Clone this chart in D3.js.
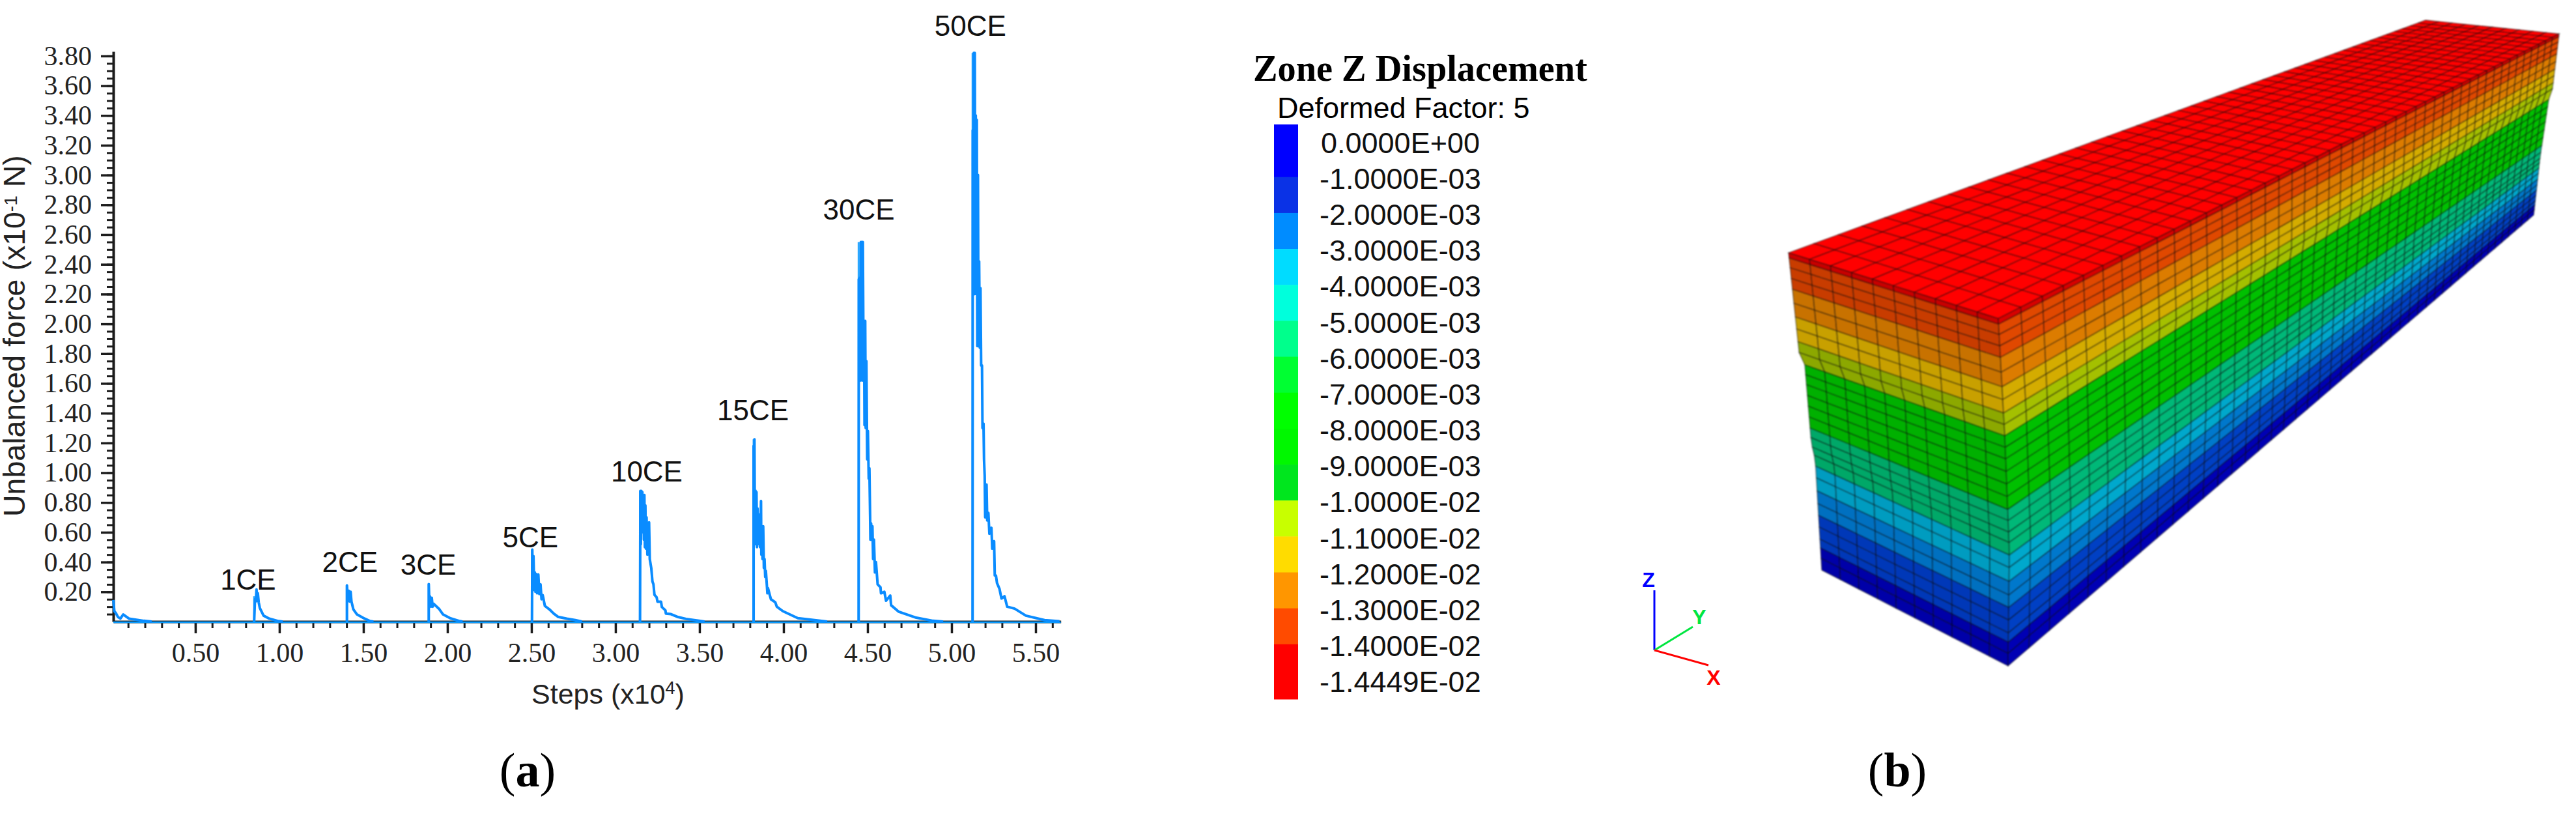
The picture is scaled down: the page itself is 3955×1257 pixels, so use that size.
<!DOCTYPE html>
<html>
<head>
<meta charset="utf-8">
<title>Unbalanced force and zone Z displacement</title>
<script src="https://cdn.jsdelivr.net/npm/d3@7/dist/d3.min.js"></script>
<style>
  html, body { margin: 0; background: #fff; }
  svg { display: block; }
  .serif { font-family: "Liberation Serif", serif; }
  .sans { font-family: "Liberation Sans", Arial, sans-serif; }
  .axis text { font-family: "Liberation Serif", serif; font-size: 42px; fill: #222; }
  .axis line, .axis path { stroke: #1c1c1c; }
</style>
</head>
<body>
<svg id="chart" width="3955" height="1257"></svg>
<script>
// (a) axes
const X_MAJOR = [0.5, 1, 1.5, 2, 2.5, 3, 3.5, 4, 4.5, 5, 5.5]
const Y_MAJOR = [0.2, 0.4, 0.6, 0.8, 1, 1.2, 1.4, 1.6, 1.8, 2, 2.2, 2.4, 2.6, 2.8, 3, 3.2, 3.4, 3.6, 3.8]

// (a) traces: [steps x10^4, force x10^-1 N]
const startTrace = [[0.012, 0.145], [0.018, 0.07], [0.027, 0.057], [0.04, 0.03], [0.054, 0.02], [0.071, 0.048], [0.105, 0.02], [0.194, 0.005], [0.24, 0]]
const peak1CE = [[0.85, 0], [0.855, 0.15], [0.86, 0.135], [0.864, 0.216], [0.868, 0.14], [0.872, 0.19], [0.877, 0.13], [0.884, 0.09], [0.906, 0.04], [0.94, 0.02], [0.995, 0.003], [1.02, 0]]
const peak2CE = [[1.402, 0], [1.402, 0.243], [1.408, 0.14], [1.413, 0.207], [1.418, 0.135], [1.424, 0.2], [1.429, 0.135], [1.44, 0.083], [1.462, 0.048], [1.507, 0.02], [1.54, 0.003], [1.56, 0]]
const peak3CE = [[1.889, 0], [1.889, 0.252], [1.893, 0.11], [1.896, 0.17], [1.902, 0.1], [1.907, 0.16], [1.912, 0.1], [1.918, 0.12], [1.952, 0.083], [1.974, 0.048], [2.018, 0.022], [2.074, 0.003], [2.09, 0]]
const peak5CE = [[2.503, 0], [2.505, 0.484], [2.509, 0.21], [2.512, 0.44], [2.516, 0.25], [2.52, 0.33], [2.524, 0.2], [2.528, 0.32], [2.534, 0.19], [2.541, 0.316], [2.547, 0.185], [2.554, 0.25], [2.56, 0.15], [2.567, 0.178], [2.58, 0.105], [2.606, 0.083], [2.632, 0.054], [2.658, 0.032], [2.71, 0.02], [2.761, 0.01], [2.8, 0]]
const peak10CE = [[3.146, 0], [3.148, 0.878], [3.151, 0.52], [3.154, 0.878], [3.157, 0.6], [3.16, 0.87], [3.163, 0.615], [3.166, 0.85], [3.169, 0.55], [3.172, 0.85], [3.175, 0.5], [3.178, 0.78], [3.181, 0.49], [3.185, 0.7], [3.19, 0.45], [3.195, 0.6], [3.2, 0.666], [3.204, 0.42], [3.213, 0.36], [3.22, 0.27], [3.226, 0.25], [3.232, 0.18], [3.245, 0.163], [3.25, 0.134], [3.271, 0.134], [3.276, 0.098], [3.297, 0.076], [3.3, 0.054], [3.33, 0.05], [3.368, 0.032], [3.42, 0.018], [3.497, 0.006], [3.53, 0]]
const peak15CE = [[3.822, 0], [3.822, 1.18], [3.825, 0.6], [3.827, 1.225], [3.83, 0.52], [3.833, 0.88], [3.836, 0.52], [3.839, 0.87], [3.842, 0.5], [3.845, 0.76], [3.848, 0.52], [3.851, 0.72], [3.854, 0.52], [3.857, 0.68], [3.86, 0.5], [3.863, 0.66], [3.866, 0.81], [3.868, 0.45], [3.872, 0.64], [3.875, 0.42], [3.879, 0.64], [3.883, 0.36], [3.887, 0.42], [3.891, 0.3], [3.895, 0.34], [3.904, 0.19], [3.907, 0.226], [3.925, 0.15], [3.951, 0.13], [3.96, 0.1], [3.996, 0.07], [4.085, 0.023], [4.218, 0.005], [4.26, 0]]
const peak30CE = [[4.447, 0], [4.448, 2.3], [4.451, 1.75], [4.454, 2.31], [4.457, 1.62], [4.46, 2.55], [4.463, 1.75], [4.466, 2.55], [4.469, 1.62], [4.472, 2.55], [4.476, 1.75], [4.479, 2.02], [4.482, 1.32], [4.486, 2.02], [4.489, 1.3], [4.493, 1.75], [4.498, 1.09], [4.502, 1.28], [4.507, 0.96], [4.511, 1.03], [4.515, 0.72], [4.517, 0.55], [4.521, 0.66], [4.525, 0.55], [4.529, 0.64], [4.533, 0.42], [4.538, 0.55], [4.544, 0.33], [4.55, 0.4], [4.56, 0.25], [4.577, 0.23], [4.58, 0.19], [4.6, 0.2], [4.61, 0.14], [4.635, 0.175], [4.64, 0.11], [4.686, 0.066], [4.79, 0.026], [4.89, 0.005], [4.95, 0]]
const peak50CE = [[5.125, 0], [5.126, 3.3], [5.129, 2.3], [5.132, 3.82], [5.135, 2.2], [5.138, 3.82], [5.141, 2.3], [5.144, 3.4], [5.147, 2.2], [5.15, 3.37], [5.153, 1.85], [5.157, 3], [5.16, 1.85], [5.164, 2.42], [5.168, 1.84], [5.172, 2.24], [5.176, 1.72], [5.181, 1.72], [5.184, 1.3], [5.19, 1.33], [5.193, 1.09], [5.197, 0.98], [5.2, 0.7], [5.208, 0.92], [5.212, 0.68], [5.219, 0.73], [5.225, 0.59], [5.237, 0.63], [5.242, 0.49], [5.253, 0.54], [5.257, 0.31], [5.264, 0.31], [5.27, 0.26], [5.285, 0.22], [5.297, 0.155], [5.315, 0.17], [5.331, 0.1], [5.375, 0.087], [5.442, 0.04], [5.553, 0.01], [5.642, 0.002]]
const allPeaks = [startTrace, peak1CE, peak2CE, peak3CE, peak5CE, peak10CE, peak15CE, peak30CE, peak50CE]

// onset spikes, drawn thinner and lighter: [step, height]
const onsets = [[0.85, 0.17], [1.402, 0.243], [1.889, 0.252], [2.503, 0.484], [3.146, 0.878], [3.822, 1.225], [4.447, 2.55], [5.125, 3.82]]

// peak labels: name, centre step, baseline force
const peakNames = ['1CE', '2CE', '3CE', '5CE', '10CE', '15CE', '30CE', '50CE']
const peakLabelSteps = [0.814, 1.42, 1.886, 2.494, 3.186, 3.818, 4.448, 5.112]
const peakLabelForce = [0.214, 0.332, 0.315, 0.499, 0.94, 1.352, 2.7, 3.933]

// (b) legend
const legendLabels = ['0.0000E+00', '-1.0000E-03', '-2.0000E-03', '-3.0000E-03', '-4.0000E-03', '-5.0000E-03', '-6.0000E-03', '-7.0000E-03', '-8.0000E-03', '-9.0000E-03', '-1.0000E-02', '-1.1000E-02', '-1.2000E-02', '-1.3000E-02', '-1.4000E-02', '-1.4449E-02']
const legendColors = ['#0000ff', '#0a32e6', '#008cff', '#00dcff', '#00ffdc', '#00ff8c', '#00ff32', '#00ff00', '#00f800', '#00e61e', '#c8ff00', '#ffdc00', '#ff9600', '#ff4b00', '#ff0000']

// (b) mesh: relative depth of each layer line, and the colour band of each layer
const layerDepth = [0, 0.016, 0.046, 0.079, 0.112, 0.155, 0.197, 0.234, 0.273, 0.306, 0.339, 0.372, 0.405, 0.441, 0.477, 0.513, 0.55, 0.582, 0.615, 0.645, 0.681, 0.717, 0.757, 0.796, 0.832, 0.868, 0.905, 0.932, 0.964, 1]
const layerBand = [0, 1, 1, 1, 2, 2, 3, 3, 4, 4, 5, 5, 5, 5, 5, 5, 6, 6, 6, 6, 7, 7, 8, 8, 9, 9, 9, 10, 10]
const bandFront = ['#c80000', '#c83c00', '#c87200', '#c8a000', '#8ca800', '#00b000', '#00a868', '#009cc0', '#0070c0', '#0038b8', '#0000a8']
const bandSide = ['#d80000', '#e04800', '#dc7c00', '#d4ac00', '#a4c000', '#00c000', '#00b878', '#00a8cc', '#0078cc', '#0040c4', '#0000b4']
const CELLS_ACROSS = 10
const CELLS_ALONG = 46
const PERSPECTIVE = 1.88

// deformed outline of the block as seen in the view: depth -> screen
const edgeLeftDepth = [0, 0.32, 0.339, 0.6, 0.66, 1]
const edgeLeftX = [2746, 2763, 2771, 2781, 2787, 2797]
const edgeLeftY = [388, 548, 560, 680, 705, 875]
const edgeCornerDepth = [0, 0.339, 0.668, 1]
const edgeCornerX = [3068, 3078, 3085, 3083]
const edgeCornerY = [489, 669, 845, 1022]
const edgeFarDepth = [0, 0.33, 0.339, 0.6, 1]
const edgeFarX = [3929, 3918, 3913, 3900, 3890]
const edgeFarY = [52, 143, 153, 240, 330]
const topBack = [3724, 31]

const svg = d3.select('#chart')

// ---- (a) line chart
const x = d3.scaleLinear().domain([0.012, 5.65]).range([174, 1628.7])
const y = d3.scaleLinear().domain([0, 3.83]).range([954, 79])

const lineGen = d3.line().x(d => x(d[0])).y(d => y(d[1]))

const axisY = svg.append('g').attr('class', 'axis').attr('transform', `translate(${x(0.012)},0)`)
axisY.call(d3.axisLeft(y).tickValues(d3.range(0.05, 3.81, 0.05)).tickSize(10).tickSizeOuter(0).tickFormat(''))
axisY.selectAll('line').attr('stroke-width', 3)
axisY.select('.domain').attr('stroke-width', 4)
const axisYMajor = svg.append('g').attr('class', 'axis').attr('transform', `translate(${x(0.012)},0)`)
axisYMajor.call(d3.axisLeft(y).tickValues(Y_MAJOR).tickSize(19).tickSizeOuter(0).tickPadding(14).tickFormat(d3.format('.2f')))
axisYMajor.select('.domain').remove()
axisYMajor.selectAll('line').attr('stroke-width', 3.5)

const axisX = svg.append('g').attr('class', 'axis').attr('transform', `translate(0,${y(0)})`)
axisX.call(d3.axisBottom(x).tickValues(d3.range(0.1, 5.61, 0.1)).tickSize(10).tickSizeOuter(0).tickFormat(''))
axisX.selectAll('line').attr('stroke-width', 3)
axisX.select('.domain').attr('stroke-width', 4)
const axisXMajor = svg.append('g').attr('class', 'axis').attr('transform', `translate(0,${y(0)})`)
axisXMajor.call(d3.axisBottom(x).tickValues(X_MAJOR).tickSize(18).tickSizeOuter(0).tickPadding(14).tickFormat(d3.format('.2f')))
axisXMajor.select('.domain').remove()
axisXMajor.selectAll('line').attr('stroke-width', 3.5)

// flat part of the trace runs along the axis
svg.append('line')
  .attr('x1', x(0.012)).attr('x2', x(5.65))
  .attr('y1', y(-0.004)).attr('y2', y(-0.004))
  .attr('stroke', '#0a9bff').attr('stroke-width', 2.5)

svg.selectAll('.onset').data(onsets).join('line')
  .attr('class', 'onset')
  .attr('x1', d => x(d[0])).attr('x2', d => x(d[0]))
  .attr('y1', y(0)).attr('y2', d => y(d[1]))
  .attr('stroke', '#2aa8ff').attr('stroke-width', 3)

svg.selectAll('.trace').data(allPeaks).join('path')
  .attr('class', 'trace')
  .attr('d', lineGen)
  .attr('fill', 'none')
  .attr('stroke', '#0a8cff')
  .attr('stroke-width', 4)
  .attr('stroke-linejoin', 'round')

svg.selectAll('.peak-label').data(peakNames).join('text')
  .attr('class', 'peak-label sans')
  .attr('x', (d, i) => x(peakLabelSteps[i]))
  .attr('y', (d, i) => y(peakLabelForce[i]))
  .attr('text-anchor', 'middle')
  .attr('font-size', 44)
  .attr('fill', '#111')
  .text(d => d)

const yTitle = svg.append('text')
  .attr('class', 'sans')
  .attr('transform', 'translate(38,793) rotate(-90)')
  .attr('font-size', 46.5)
  .attr('fill', '#222')
yTitle.append('tspan').text('Unbalanced force (x10')
yTitle.append('tspan').attr('dy', -12).attr('font-size', 28).text('-1')
yTitle.append('tspan').attr('dy', 12).text(' N)')

const xTitle = svg.append('text')
  .attr('class', 'sans')
  .attr('x', 816).attr('y', 1080)
  .attr('font-size', 43)
  .attr('fill', '#222')
xTitle.append('tspan').text('Steps (x10')
xTitle.append('tspan').attr('dy', -15).attr('font-size', 27).text('4')
xTitle.append('tspan').attr('dy', 15).text(')')

// ---- panel letters
const panelLetter = (cx, letter) => {
  const t = svg.append('text')
    .attr('class', 'serif')
    .attr('x', cx).attr('y', 1207)
    .attr('text-anchor', 'middle')
    .attr('font-size', 74)
    .attr('fill', '#000')
  t.append('tspan').text('(')
  t.append('tspan').attr('font-weight', 'bold').text(letter)
  t.append('tspan').text(')')
}
panelLetter(810, 'a')
panelLetter(2913, 'b')

// ---- (b) legend
svg.append('text')
  .attr('class', 'serif')
  .attr('x', 1924).attr('y', 124)
  .attr('font-size', 56.3).attr('font-weight', 'bold')
  .text('Zone Z Displacement')
svg.append('text')
  .attr('class', 'sans')
  .attr('x', 1961).attr('y', 181)
  .attr('font-size', 45)
  .text('Deformed Factor: 5')

const legendY = d3.scalePoint().domain(legendLabels).range([218.6, 1046])
const legendEdge = i => {
  if (i === 0) return legendY(legendLabels[0]) - 27.6
  if (i === legendColors.length) return legendY(legendLabels[i]) + 27
  return legendY(legendLabels[i]) - 2
}
svg.selectAll('.legend-seg').data(legendColors).join('rect')
  .attr('class', 'legend-seg')
  .attr('x', 1956).attr('width', 37)
  .attr('y', (d, i) => legendEdge(i))
  .attr('height', (d, i) => legendEdge(i + 1) - legendEdge(i) + 0.5)
  .attr('fill', d => d)
svg.selectAll('.legend-label').data(legendLabels).join('text')
  .attr('class', 'legend-label sans')
  .attr('x', d => d[0] === '-' ? 2026 : 2028)
  .attr('y', d => legendY(d))
  .attr('dy', '0.36em')
  .attr('font-size', 45)
  .attr('fill', '#111')
  .text(d => d)

// ---- (b) axis triad
const triad = [
  { name: 'Z', color: '#0000ff', to: [2540, 906], at: [2531, 901] },
  { name: 'Y', color: '#00e640', to: [2599, 962], at: [2609, 958] },
  { name: 'X', color: '#ff0000', to: [2623, 1021], at: [2631, 1051] }
]
svg.selectAll('.triad-line').data(triad).join('line')
  .attr('x1', 2540).attr('y1', 998)
  .attr('x2', d => d.to[0]).attr('y2', d => d.to[1])
  .attr('stroke', d => d.color).attr('stroke-width', 3)
svg.selectAll('.triad-label').data(triad).join('text')
  .attr('class', 'sans')
  .attr('x', d => d.at[0]).attr('y', d => d.at[1])
  .attr('text-anchor', 'middle')
  .attr('font-size', 32).attr('font-weight', 'bold')
  .attr('fill', d => d.color)
  .text(d => d.name)

// ---- (b) mesh block
const edgeScale = (depth, xs, ys) => {
  const sx = d3.scaleLinear().domain(depth).range(xs)
  const sy = d3.scaleLinear().domain(depth).range(ys)
  return f => [sx(f), sy(f)]
}
const edgeLeft = edgeScale(edgeLeftDepth, edgeLeftX, edgeLeftY)
const edgeCorner = edgeScale(edgeCornerDepth, edgeCornerX, edgeCornerY)
const edgeFar = edgeScale(edgeFarDepth, edgeFarX, edgeFarY)

const mix = (a, b, t) => [a[0] + (b[0] - a[0]) * t, a[1] + (b[1] - a[1]) * t]
// cells shrink going away from the viewer
const along = u => PERSPECTIVE * u / ((1 - u) + PERSPECTIVE * u)

const cells = []
const quad = (a, b, c, d, fill) => cells.push({ pts: [a, b, c, d], fill })

const topNear = edgeCorner(0)
const topLeft = edgeLeft(0)
const topFar = edgeFar(0)
for (let i = 0; i < CELLS_ALONG; i++) {
  const t0 = along(i / CELLS_ALONG)
  const t1 = along((i + 1) / CELLS_ALONG)
  for (let r = 0; r < CELLS_ACROSS; r++) {
    const p = (t, k) => mix(mix(topLeft, topBack, t), mix(topNear, topFar, t), k / CELLS_ACROSS)
    quad(p(t0, r), p(t1, r), p(t1, r + 1), p(t0, r + 1), '#ff0000')
  }
}
layerBand.forEach((band, l) => {
  const f0 = layerDepth[l]
  const f1 = layerDepth[l + 1]
  for (let c = 0; c < CELLS_ACROSS; c++) {
    const k0 = c / CELLS_ACROSS
    const k1 = (c + 1) / CELLS_ACROSS
    const p = (f, k) => mix(edgeLeft(f), edgeCorner(f), k)
    quad(p(f0, k0), p(f0, k1), p(f1, k1), p(f1, k0), bandFront[band])
  }
  for (let i = 0; i < CELLS_ALONG; i++) {
    const t0 = along(i / CELLS_ALONG)
    const t1 = along((i + 1) / CELLS_ALONG)
    const p = (f, t) => mix(edgeCorner(f), edgeFar(f), t)
    quad(p(f0, t0), p(f0, t1), p(f1, t1), p(f1, t0), bandSide[band])
  }
})

const polyLine = d3.line().curve(d3.curveLinearClosed)
svg.append('g')
  .attr('style', 'filter: blur(0.8px)')
  .selectAll('path').data(cells).join('path')
  .attr('d', d => polyLine(d.pts))
  .attr('fill', d => d.fill)
  .attr('stroke', 'rgba(0,0,0,0.5)')
  .attr('stroke-width', 1.3)
</script>
</body>
</html>
